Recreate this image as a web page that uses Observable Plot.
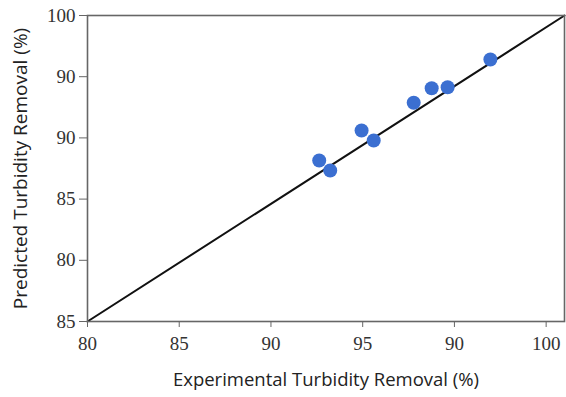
<!DOCTYPE html>
<html>
<head>
<meta charset="utf-8">
<script src="https://cdn.jsdelivr.net/npm/d3@7"></script>
<script src="https://cdn.jsdelivr.net/npm/@observablehq/plot@0.6"></script>
<style>
  html, body { margin: 0; padding: 0; background: #fff; }
  #chart svg { display: block; }
</style>
</head>
<body>
<div id="chart"></div>
<script>
// Data
const experimental = [92.63, 93.23, 94.94, 95.60, 97.78, 98.76, 99.63, 101.96];
const predicted    = [88.15, 87.34, 90.60, 89.79, 92.87, 94.06, 94.14, 96.41];
const fitX = [80, 106];
const fitY = [75, 100];
const xTickValues = [80, 85, 90, 95, 100, 105];
const xTickLabels = ["80", "85", "90", "95", "90", "100"];
const yTickValues = [75, 80, 85, 90, 95, 100];
const yTickLabels = ["85", "80", "85", "90", "90", "100"];
const xTitle = "Experimental Turbidity Removal (%)";
const yTitle = "Predicted Turbidity Removal (%)";

const points = experimental.map((x, i) => ({x, y: predicted[i]}));
const fitLine = fitX.map((x, i) => ({x, y: fitY[i]}));

const chart = Plot.plot({
  width: 566,
  height: 397,
  marginLeft: 87,
  marginRight: 2,
  marginTop: 15,
  marginBottom: 76,
  x: {domain: [80, 106]},
  y: {domain: [75, 100]},
  marks: [
    Plot.line(fitLine, {x: "x", y: "y", stroke: "#111", strokeWidth: 2}),
    Plot.dot(points, {x: "x", y: "y", r: 7, fill: "#3b6fd1", stroke: "none"}),
    Plot.frame({stroke: "#666", strokeWidth: 1.6}),
    Plot.axisX({ticks: xTickValues, tickFormat: (d) => xTickLabels[xTickValues.indexOf(d)],
      tickSize: 6, tickPadding: 9, label: null, fontSize: 19,
      fontFamily: "Liberation Serif", fill: "#333", stroke: "#666"}),
    Plot.axisY({ticks: yTickValues, tickFormat: (d) => yTickLabels[yTickValues.indexOf(d)],
      tickSize: 8, tickPadding: 4, label: null, fontSize: 19,
      fontFamily: "Liberation Serif", fill: "#333", stroke: "#666"}),
    Plot.text([xTitle], {frameAnchor: "bottom", dy: 64, text: (d) => d, textAnchor: "middle",
      fontSize: 18.5, fontFamily: "Open Sans", fill: "#222"}),
    Plot.text([yTitle], {frameAnchor: "left", dx: -67, rotate: -90, text: (d) => d, textAnchor: "middle",
      fontSize: 19, fontFamily: "Open Sans", fill: "#222"})
  ]
});
document.getElementById("chart").appendChild(chart);
</script>
</body>
</html>
